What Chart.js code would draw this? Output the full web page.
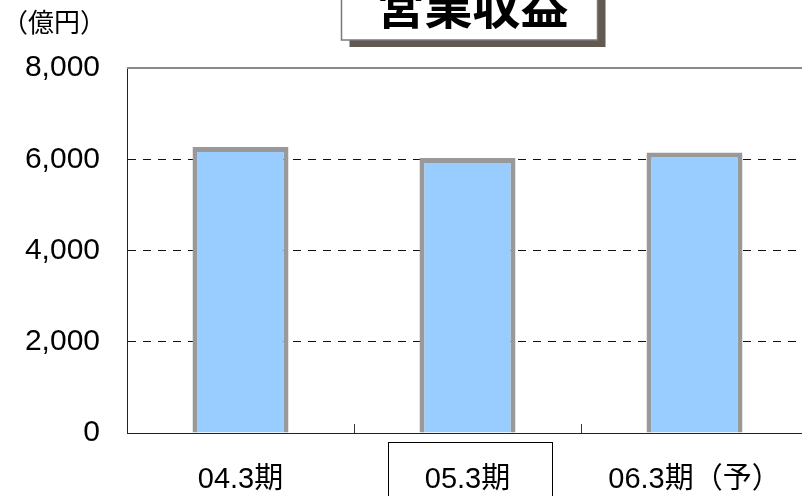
<!DOCTYPE html>
<html>
<head>
<meta charset="utf-8">
<script src="https://cdn.jsdelivr.net/npm/chart.js@4/dist/chart.umd.min.js"></script>
<style>
html, body { margin: 0; padding: 0; overflow: hidden; background: #fff; }
#wrap { width: 808px; height: 496px; }
</style>
</head>
<body>
<div id="wrap"><canvas id="revenue_chart"></canvas></div>
<script>
// data
var periods = ['04.3期', '05.3期', '06.3期（予）'];
var revenue = [6270, 6030, 6150];
var yTicks = [0, 2000, 4000, 6000, 8000];
var chartTitle = '営業収益';
var unitLabel = '（億円）';
var boxedPeriod = '05.3期';

var fontFamily = '"Liberation Sans", Arial, "Noto Sans CJK JP", sans-serif';

// title box, unit label, boxed period label, inner ticks and top frame line
var overlay = {
    id: 'overlay',
    afterDraw: function(chart) {
        let ctx = chart.ctx;
        let area = chart.chartArea;
        let x = chart.scales.x;
        let y = chart.scales.y;
        ctx.save();

        // top line at the max of the axis
        let top = y.getPixelForValue(yTicks[yTicks.length - 1]);
        ctx.strokeStyle = '#8a8a8a';
        ctx.lineWidth = 2;
        ctx.beginPath();
        ctx.moveTo(area.left, top);
        ctx.lineTo(area.right, top);
        ctx.stroke();

        // little upward ticks between categories
        ctx.strokeStyle = '#333';
        ctx.lineWidth = 1;
        for (let i = 1; i < periods.length; i++) {
            let px = Math.round((x.getPixelForValue(i - 1) + x.getPixelForValue(i)) / 2) + 0.5;
            ctx.beginPath();
            ctx.moveTo(px, area.bottom - 9);
            ctx.lineTo(px, area.bottom);
            ctx.stroke();
        }

        // box round one period label
        let bi = periods.indexOf(boxedPeriod);
        if (bi >= 0) {
            let cx = x.getPixelForValue(bi);
            ctx.strokeStyle = '#000';
            ctx.lineWidth = 1;
            ctx.strokeRect(Math.round(cx - 80) + 0.5, area.bottom + 9.5, 164, 80);
        }

        // unit label
        ctx.fillStyle = '#000';
        ctx.font = '26px ' + fontFamily;
        ctx.textAlign = 'left';
        ctx.textBaseline = 'middle';
        ctx.fillText(unitLabel, 2, 25);

        // title box with shadow
        let tcx = (area.left + area.right) / 2 + 2;
        let bw = 256;
        ctx.fillStyle = '#625a50';
        ctx.fillRect(tcx - bw / 2 + 8, -20, bw, 67);
        ctx.fillStyle = '#fff';
        ctx.fillRect(tcx - bw / 2, -20, bw, 60);
        ctx.strokeStyle = '#7a7a7a';
        ctx.lineWidth = 1.5;
        ctx.strokeRect(tcx - bw / 2, -20, bw, 60);
        ctx.fillStyle = '#000';
        ctx.font = 'bold 48px "Noto Sans CJK JP", sans-serif';
        ctx.textAlign = 'center';
        ctx.textBaseline = 'alphabetic';
        ctx.fillText(chartTitle, tcx + 3, 24);

        ctx.restore();
    }
};

var canvas = document.getElementById('revenue_chart');
var revenueChart = new Chart(canvas, {
    type: 'bar',
    data: {
        labels: periods,
        datasets: [{
            label: chartTitle,
            data: revenue,
            backgroundColor: '#99ccff',
            borderColor: '#999999',
            borderWidth: 5,
            barPercentage: 0.423,
            categoryPercentage: 1
        }]
    },
    options: {
        responsive: true,
        maintainAspectRatio: false,
        animation: false,
        layout: { padding: { top: 68, left: 0, right: 0, bottom: 0 } },
        plugins: {
            legend: { display: false },
            title: { display: false },
            tooltip: { enabled: false }
        },
        scales: {
            x: {
                grid: { display: false },
                border: { display: true, color: '#222', width: 1 },
                ticks: {
                    color: '#000',
                    padding: 22,
                    maxRotation: 0,
                    autoSkip: false,
                    font: { family: fontFamily, size: 29 }
                },
                afterFit: function(scale) { scale.height = 63; }
            },
            y: {
                min: yTicks[0],
                max: yTicks[yTicks.length - 1],
                afterBuildTicks: function(scale) {
                    scale.ticks = yTicks.map(function(v) { return { value: v }; });
                },
                grid: {
                    drawTicks: false,
                    lineWidth: 1,
                    color: function(c) {
                        let v = c.tick ? c.tick.value : null;
                        if (v === yTicks[0] || v === yTicks[yTicks.length - 1]) return 'rgba(0,0,0,0)';
                        return '#111';
                    }
                },
                border: { display: true, color: '#222', width: 1, dash: [8, 7] },
                ticks: {
                    color: '#000',
                    padding: 27,
                    font: { family: fontFamily, size: 30 },
                    callback: function(v) { return v.toLocaleString('en-US'); }
                },
                afterFit: function(scale) { scale.width = 127; }
            }
        }
    },
    plugins: [overlay]
});
</script>
</body>
</html>
